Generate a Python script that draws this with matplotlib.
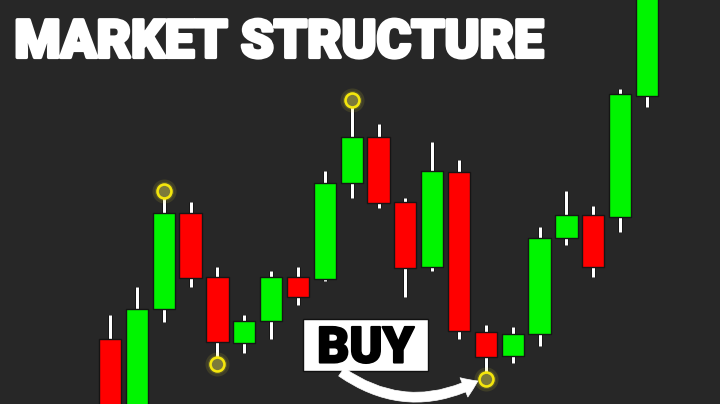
import matplotlib
matplotlib.use("Agg")
import matplotlib.pyplot as plt
import matplotlib.patheffects as pe
from matplotlib import font_manager
from matplotlib.patches import Rectangle

# candle data (price units, up = higher)
opens  = [65, -10, 95, 191, 127, 61, 83, 127, 125, 221, 267, 202, 137, 232, 72, 48, 70, 166, 189, 187, 308]
highs  = [89, 117, 213, 202, 137, 89, 133, 137, 233, 304, 280, 206, 262, 244, 79, 77, 177, 213, 198, 315, 430]
lows   = [-20, -20, 82, 117, 40, 51, 65, 99, 123, 206, 196, 107, 133, 65, 25, 41, 58, 159, 127, 172, 297]
closes = [-10, 95, 191, 126, 62, 83, 127, 107, 221, 267, 201, 136, 233, 73, 47, 70, 166, 189, 137, 310, 420]

# swing points marked with circles: (candle index, 'high' or 'low')
swings = [(2, "high"), (4, "low"), (9, "high"), (14, "low")]
buy_index = 14

title = "MARKET STRUCTURE"
buy_label = "BUY"

bg = "#272727"
green = "#00f500"
red = "#ff0000"


# find the heaviest installed sans face for the big lettering
def heavy_font():
    wmap = {"black": 900, "heavy": 900, "extra bold": 800, "ultrabold": 800,
            "bold": 700, "semibold": 600, "demibold": 600}
    best = None
    for fam in ["Roboto", "Noto Sans", "Open Sans", "Lato", "Inter", "DejaVu Sans"]:
        for f in font_manager.fontManager.ttflist:
            if f.name != fam or f.style != "normal":
                continue
            w = f.weight if isinstance(f.weight, int) else wmap.get(str(f.weight).lower(), 400)
            if "condensed" in f.fname.lower() or "italic" in f.fname.lower():
                continue
            if best is None or w > best[0]:
                best = (w, f.fname)
        if best and best[0] >= 800:
            break
    return font_manager.FontProperties(fname=best[1])


fp = heavy_font()

fig = plt.figure(figsize=(7.2, 4.04), dpi=100)
fig.patch.set_facecolor(bg)
ax = fig.add_axes([0, 0, 1, 1])
ax.set_facecolor(bg)

idx = list(range(len(opens)))

# wicks
ax.vlines(idx, lows, highs, color="white", lw=2.2, zorder=2,
          path_effects=[pe.Stroke(linewidth=3.6, foreground="#111111"), pe.Normal()])

# bodies
bottoms = [min(o, c) for o, c in zip(opens, closes)]
heights = [abs(c - o) for o, c in zip(opens, closes)]
colors = [green if c >= o else red for o, c in zip(opens, closes)]
ax.bar(idx, heights, bottom=bottoms, width=0.83, color=colors,
       edgecolor="#151515", linewidth=1.0, zorder=3)

# swing circles with glow
sx = [i for i, k in swings]
sy = [highs[i] if k == "high" else lows[i] for i, k in swings]
ax.scatter(sx, sy, s=300, color="#e8e030", alpha=0.12, lw=0, zorder=4)
ax.scatter(sx, sy, s=190, color="#e8e030", alpha=0.15, lw=0, zorder=4)
ax.scatter(sx, sy, s=100, facecolor="#7c7a3a", edgecolor="#f4e60c", linewidth=1.9, zorder=5)

# BUY label box and arrow
ax.add_patch(Rectangle((7.19, 33), 4.65, 52, facecolor="white", edgecolor="#111111",
                       lw=1, zorder=6))
buy_fp = fp.copy()
buy_fp.set_size(36)
ax.text(9.52, 55, buy_label, fontproperties=buy_fp,
        color="black", ha="center", va="center", zorder=7,
        path_effects=[pe.withStroke(linewidth=1.5, foreground="black")])
ax.annotate("", xy=(buy_index - 0.3, lows[buy_index] - 2), xytext=(8.62, 32),
            arrowprops=dict(arrowstyle="simple,head_length=1.1,head_width=1.5,tail_width=0.7",
                            connectionstyle="arc3,rad=0.3", fc="white", ec="white", lw=0.5,
                            shrinkA=0, shrinkB=0),
            zorder=6)

# title
title_fp = fp.copy()
title_fp.set_size(38)
ax.text(0.02, 0.858, title, transform=ax.transAxes, fontproperties=title_fp,
        color="white", ha="left", va="baseline", zorder=7,
        path_effects=[pe.withStroke(linewidth=2.5, foreground="white")])

ax.set_xlim(-110 / 26.85, (720 - 110) / 26.85)
ax.set_ylim(0, 404)
ax.axis("off")

fig.savefig("out.png", dpi=100, facecolor=bg)
